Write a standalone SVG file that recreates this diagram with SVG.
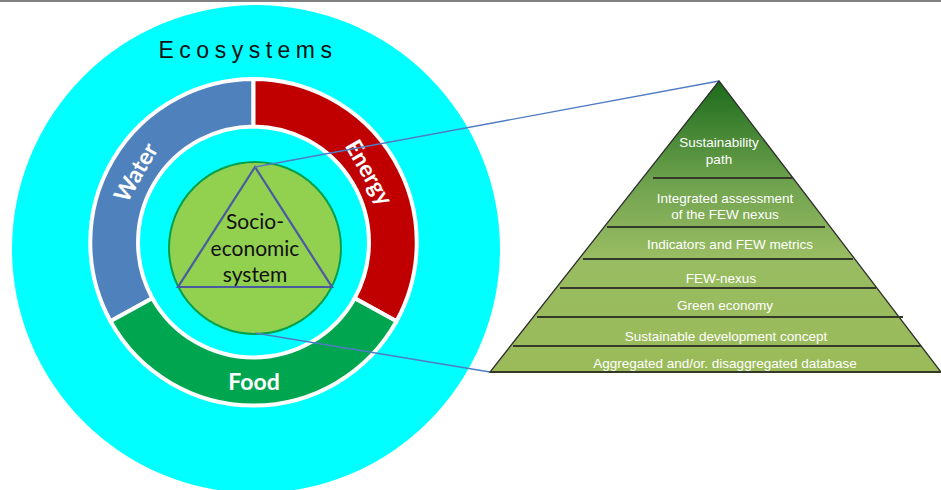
<svg xmlns="http://www.w3.org/2000/svg" width="941" height="490" viewBox="0 0 941 490">
<defs>
<linearGradient id="pyr" x1="0" y1="81" x2="0" y2="372" gradientUnits="userSpaceOnUse">
<stop offset="0" stop-color="#1B6B1B"/>
<stop offset="0.35" stop-color="#6FA24E"/>
<stop offset="0.6" stop-color="#98BC62"/>
<stop offset="1" stop-color="#9BBB59"/>
</linearGradient>
<style>
.seg{stroke:#fff;stroke-width:4}
.ring-label{font-family:Lato,"Liberation Sans",sans-serif;font-weight:bold;font-size:23px;fill:#fff;text-anchor:middle;dominant-baseline:central}
.pt{font-family:"Liberation Sans",Arial,sans-serif;font-size:13.5px;fill:#fff;text-anchor:middle;dominant-baseline:central}
.sep{stroke:#333a2a;stroke-width:2}
.conn{stroke:#4F7CC4;stroke-width:1.3;fill:none}
</style>
</defs>
<rect width="941" height="490" fill="#fff"/>
<line x1="0" y1="1" x2="941" y2="1" stroke="#808080" stroke-width="2"/>

<g id="ecosystems">
<circle cx="256" cy="249" r="244" fill="#00FFFF"/>
<text x="248" y="50" font-family="'Liberation Sans',Arial,sans-serif" font-size="23" letter-spacing="5.5" text-anchor="middle" dominant-baseline="central" fill="#111">Ecosystems</text>
</g>

<g id="water">
<path class="seg" fill="#4F81BD" d="M253.5 79 A163.5 163.5 0 0 0 110.5 321.3 L152.3 298.2 A116 116 0 0 1 253.5 126.5 Z"/>
<text class="ring-label" transform="translate(135 172) rotate(-60)">Water</text>
</g>

<g id="energy">
<path class="seg" fill="#C00000" d="M253.5 79 A163.5 163.5 0 0 1 396.5 321.3 L354.7 298.2 A116 116 0 0 0 253.5 126.5 Z"/>
<text class="ring-label" transform="translate(370 172) rotate(60)">Energy</text>
</g>

<g id="food">
<path class="seg" fill="#00A550" d="M110.5 321.3 A163.5 163.5 0 0 0 396.5 321.3 L354.7 298.2 A116 116 0 0 1 152.3 298.2 Z"/>
<text class="ring-label" x="254" y="381">Food</text>
</g>

<g id="socio-economic">
<circle cx="255" cy="248" r="86" fill="#92D050" stroke="#00A04A" stroke-width="2"/>
<polygon points="255,167 178,287 332,287" fill="none" stroke="#4A5AA0" stroke-width="2.2"/>
<g font-family="Lato,'Liberation Sans',sans-serif" font-size="21" fill="#111" text-anchor="middle" dominant-baseline="central">
<text x="255" y="220">Socio-</text>
<text x="255" y="247">economic</text>
<text x="255" y="273">system</text>
</g>
</g>

<g id="connectors">
<line class="conn" x1="255" y1="167" x2="719" y2="81"/>
<line class="conn" x1="255" y1="333" x2="490" y2="372"/>
</g>

<g id="pyramid">
<polygon points="719,81 941,372 490,372" fill="url(#pyr)" stroke="#2f2f2f" stroke-width="1.3"/>
<line class="sep" x1="653" y1="178" x2="793" y2="178"/>
<line class="sep" x1="607" y1="227" x2="825" y2="227"/>
<line class="sep" x1="583" y1="259" x2="853" y2="259"/>
<line class="sep" x1="560" y1="288" x2="876" y2="288"/>
<line class="sep" x1="537" y1="317" x2="903" y2="317"/>
<line class="sep" x1="513" y1="346" x2="921" y2="346"/>
<line class="sep" x1="490" y1="372" x2="941" y2="372"/>
<text class="pt" x="719" y="142">Sustainability</text>
<text class="pt" x="719" y="159">path</text>
<text class="pt" x="725" y="198" font-family="Lato,'Liberation Sans',sans-serif">Integrated assessment</text>
<text class="pt" x="725" y="214" font-family="Lato,'Liberation Sans',sans-serif">of the FEW nexus</text>
<text class="pt" x="730" y="244">Indicators and FEW metrics</text>
<text class="pt" x="721" y="278">FEW-nexus</text>
<text class="pt" x="725" y="305">Green economy</text>
<text class="pt" x="726" y="336">Sustainable development concept</text>
<text class="pt" x="725" y="363">Aggregated and/or. disaggregated database</text>
</g>
</svg>
